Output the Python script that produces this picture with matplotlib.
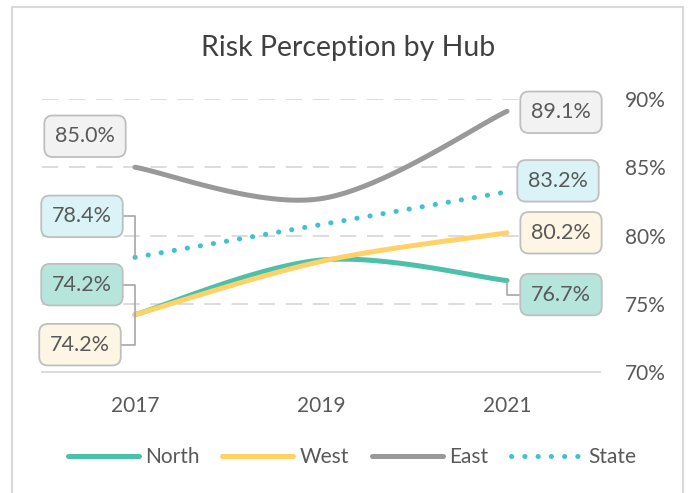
import numpy as np
import matplotlib.pyplot as plt
from matplotlib.patches import Rectangle

plt.rcParams['font.family'] = ['Lato', 'DejaVu Sans']

# data
years = ['2017', '2019', '2021']
north = [74.2, 78.2, 76.7]
west = [74.2, 78.1, 80.2]
east = [85.0, 82.7, 89.1]
state = [78.4, 80.8, 83.2]

series = ['North', 'West', 'East', 'State']
values = [north, west, east, state]
colors = ['#4cc0aa', '#ffd166', '#999999', '#3ec1d3']
box_fill = ['#b6e5dc', '#fef6e4', '#f2f2f2', '#d9f3f6']

# label offsets (pixels) for first / last point, and whether a leader is drawn
label_first = [(-53, 30, True), (-55, -30, True), (-50, 31, False), (-53, 41, True)]
label_last = [(54, -14, True), (54, 0, False), (54, -1, False), (51, 11, False)]

text_col = '#595959'


def smooth(y, n=60):
    # Excel-style smoothed line: cubic bezier with catmull-rom control points
    x = np.arange(len(y), dtype=float)
    p = np.column_stack([x, y])
    out = []
    for i in range(len(p) - 1):
        p0 = p[i - 1] if i > 0 else p[i]
        p3 = p[i + 2] if i + 2 < len(p) else p[i + 1]
        c1 = p[i] + (p[i + 1] - p0) / 6
        c2 = p[i + 1] - (p3 - p[i]) / 6
        t = np.linspace(0, 1, n)[:, None]
        seg = ((1 - t) ** 3) * p[i] + 3 * ((1 - t) ** 2) * t * c1 \
            + 3 * (1 - t) * t ** 2 * c2 + t ** 3 * p[i + 1]
        out.append(seg if i == 0 else seg[1:])
    out = np.vstack(out)
    return out[:, 0], out[:, 1]


fig = plt.figure(figsize=(6.88, 4.93), dpi=100)
fig.patches.append(Rectangle((12 / 688, -0.05), 671 / 688, 1.05 - 7 / 493,
                             transform=fig.transFigure, fill=False,
                             edgecolor='#d9d9d9', lw=1.5))

ax = fig.add_axes([42 / 688, 121 / 493, 558 / 688, 273 / 493])
ax.set_xlim(-0.5, 2.5)
ax.set_ylim(70, 90)

for name, v, c in zip(series, values, colors):
    xs, ys = smooth(v)
    if name == 'State':
        ax.plot(xs, ys, color=c, lw=3.6, linestyle=(0, (0.05, 2.6)),
                dash_capstyle='round', label=name, zorder=3)
    else:
        ax.plot(xs, ys, color=c, lw=3.6, solid_capstyle='round',
                label=name, zorder=3)

# data labels
for v, fc, lf, ll in zip(values, box_fill, label_first, label_last):
    for idx, (dx, dy, lead) in ((0, lf), (len(v) - 1, ll)):
        arrow = None
        if lead:
            arrow = dict(arrowstyle='-', color='#a6a6a6', lw=1.2,
                         connectionstyle='angle,angleA=0,angleB=90,rad=0',
                         shrinkA=0, shrinkB=0)
        ax.annotate(f'{v[idx]:.1f}%', xy=(idx, v[idx]), xytext=(dx, dy),
                    textcoords='offset pixels', ha='center', va='center',
                    fontsize=15.5, color=text_col, zorder=5,
                    bbox=dict(boxstyle='round,pad=0.5,rounding_size=0.4',
                              fc=fc, ec='#bfbfbf', lw=1.3),
                    arrowprops=arrow)

ax.set_xticks(range(len(years)))
ax.set_xticklabels(years)
ax.set_yticks([70, 75, 80, 85, 90])
ax.set_yticklabels([f'{t}%' for t in [70, 75, 80, 85, 90]])
ax.yaxis.tick_right()
ax.tick_params(axis='both', length=0, labelsize=15, colors=text_col)
ax.tick_params(axis='x', pad=17)
ax.tick_params(axis='y', pad=18)

for t in [75, 80, 85, 90]:
    ax.axhline(t, color='#d9d9d9', lw=1.3, dashes=(9, 6), zorder=1)

for s in ['top', 'left', 'right']:
    ax.spines[s].set_visible(False)
ax.spines['bottom'].set_color('#d9d9d9')
ax.spines['bottom'].set_linewidth(1.3)

fig.text(348 / 688, 1 - 48 / 493, 'Risk Perception by Hub', ha='center',
         va='center', fontsize=20.5, color='#404040')

leg = fig.legend(loc='center', bbox_to_anchor=(352 / 688, 1 - 457 / 493),
                 ncol=4, frameon=False, fontsize=15, handlelength=3.4,
                 handletextpad=0.3, columnspacing=1.1)
for t in leg.get_texts():
    t.set_color(text_col)

fig.savefig('out.png', dpi=100)
